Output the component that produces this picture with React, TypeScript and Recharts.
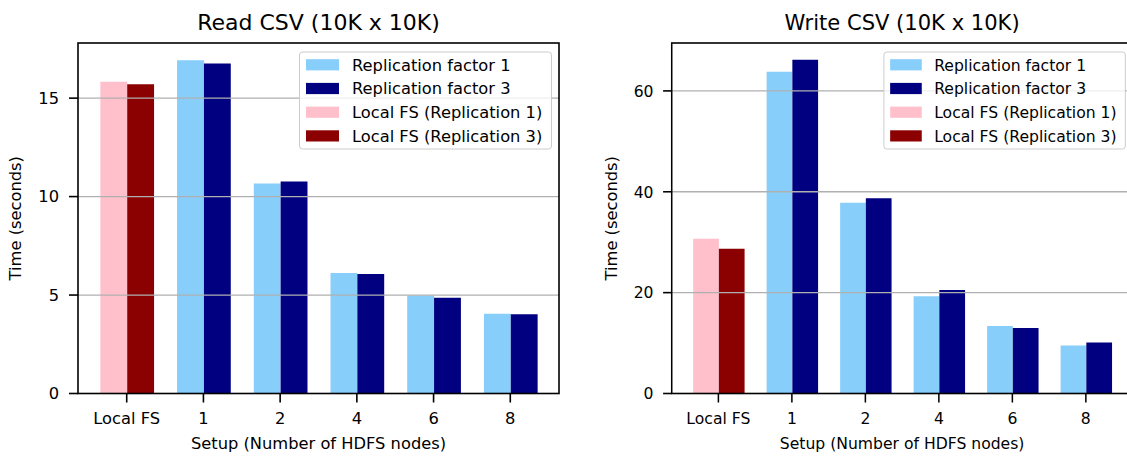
import { BarChart, Bar, XAxis, YAxis, ReferenceLine } from "recharts"

const categories = ["Local FS", "1", "2", "4", "6", "8"]

const readRep1 = [null, 16.93, 10.66, 6.12, 4.98, 4.05]
const readRep3 = [null, 16.76, 10.76, 6.07, 4.86, 4.02]
const readLocal1 = [15.83, null, null, null, null, null]
const readLocal3 = [15.7, null, null, null, null, null]
const readTicks = [0, 5, 10, 15]

const writeRep1 = [null, 63.8, 37.8, 19.3, 13.4, 9.5]
const writeRep3 = [null, 66.2, 38.7, 20.5, 13.0, 10.1]
const writeLocal1 = [30.7, null, null, null, null, null]
const writeLocal3 = [28.7, null, null, null, null, null]
const writeTicks = [0, 20, 40, 60]

const legendItems = [
  { label: "Replication factor 1", color: "#87cefa" },
  { label: "Replication factor 3", color: "#000080" },
  { label: "Local FS (Replication 1)", color: "#ffc0cb" },
  { label: "Local FS (Replication 3)", color: "#8b0000" },
]

const FONT = "DejaVu Sans"
const FS = 16.3

// plot box inside each 570x459 panel
const PL = 78
const PR = 559
const PT = 43
const PB = 393.5

type Num = number | null

function Panel({ title, rep1, rep3, local1, local3, domain, ticks }: {
  title: string
  rep1: Num[]
  rep3: Num[]
  local1: Num[]
  local3: Num[]
  domain: [number, number]
  ticks: number[]
}) {
  const rows = categories.map((c, i) => ({
    setup: c,
    rep1: rep1[i],
    rep3: rep3[i],
    local1: local1[i],
    local3: local3[i],
  }))
  const pw = PR - PL
  const unit = pw / 6.27
  const pad = 0.635 * unit - unit / 2
  const bw = 0.35 * unit
  const tickStyle = { fontSize: FS, fill: "#000", fontFamily: FONT }
  const cx = (PL + PR) / 2

  return (
    <div style={{ position: "relative", width: 570, height: 459 }}>
      <BarChart
        width={570}
        height={459}
        data={rows}
        margin={{ top: PT, right: 570 - PR, bottom: 459 - PB - 30, left: PL - 60 }}
        barGap={0}
        barSize={bw}
      >
        <XAxis
          dataKey="setup"
          height={30}
          padding={{ left: pad, right: pad }}
          axisLine={false}
          tickSize={9}
          tickMargin={10}
          tickLine={{ stroke: "#000", strokeWidth: 1.6 }}
          tick={tickStyle}
          interval={0}
        />
        <YAxis
          width={60}
          domain={domain}
          ticks={ticks}
          axisLine={false}
          tickSize={9}
          tickMargin={10}
          tickLine={{ stroke: "#000", strokeWidth: 1.6 }}
          tick={tickStyle}
        />
        <Bar dataKey="rep1" stackId="a" fill="#87cefa" isAnimationActive={false} />
        <Bar dataKey="local1" stackId="a" fill="#ffc0cb" isAnimationActive={false} />
        <Bar dataKey="rep3" stackId="b" fill="#000080" isAnimationActive={false} />
        <Bar dataKey="local3" stackId="b" fill="#8b0000" isAnimationActive={false} />
        {ticks.filter((t) => t > 0).map((t) => (
          <ReferenceLine key={t} y={t} stroke="#b0b0b0" strokeWidth={1.3} />
        ))}
      </BarChart>
      <svg
        width={570}
        height={459}
        style={{ position: "absolute", left: 0, top: 0, pointerEvents: "none" }}
        fontFamily={FONT}
      >
        <rect x={PL} y={PT} width={pw} height={PB - PT} fill="none" stroke="#000" strokeWidth={1.6} />
        <text x={cx} y={30} textAnchor="middle" fontSize={22} fill="#000">{title}</text>
        <text x={cx} y={449} textAnchor="middle" fontSize={FS} fill="#000">
          Setup (Number of HDFS nodes)
        </text>
        <text
          transform={`translate(20.5, ${(PT + PB) / 2}) rotate(-90)`}
          textAnchor="middle"
          fontSize={FS}
          fill="#000"
        >
          Time (seconds)
        </text>
        <rect x={299.5} y={52} width={252} height={97} rx={3} fill="#fff" fillOpacity={0.8} stroke="#cccccc" />
        {legendItems.map((it, i) => {
          const y = 64.8 + i * 23.7
          return (
            <g key={it.label}>
              <rect x={306} y={y - 5.6} width={33} height={11.2} fill={it.color} />
              <text x={352} y={y + 5.8} fontSize={FS} fill="#000">{it.label}</text>
            </g>
          )
        })}
      </svg>
    </div>
  )
}

export default function App() {
  return (
    <div
      style={{
        position: "absolute",
        left: 0,
        top: 0,
        width: 1127,
        height: 459,
        overflow: "hidden",
        background: "#fff",
        fontFamily: FONT,
      }}
    >
      <div style={{ position: "absolute", left: 0, top: 0 }}>
        <Panel
          title="Read CSV (10K x 10K)"
          rep1={readRep1}
          rep3={readRep3}
          local1={readLocal1}
          local3={readLocal3}
          domain={[0, 17.8]}
          ticks={readTicks}
        />
      </div>
      <div
        style={{
          position: "absolute",
          left: 596.8,
          top: 0,
          transform: "scaleX(0.958)",
          transformOrigin: "0 0",
        }}
      >
        <Panel
          title="Write CSV (10K x 10K)"
          rep1={writeRep1}
          rep3={writeRep3}
          local1={writeLocal1}
          local3={writeLocal3}
          domain={[0, 69.5]}
          ticks={writeTicks}
        />
      </div>
    </div>
  )
}
